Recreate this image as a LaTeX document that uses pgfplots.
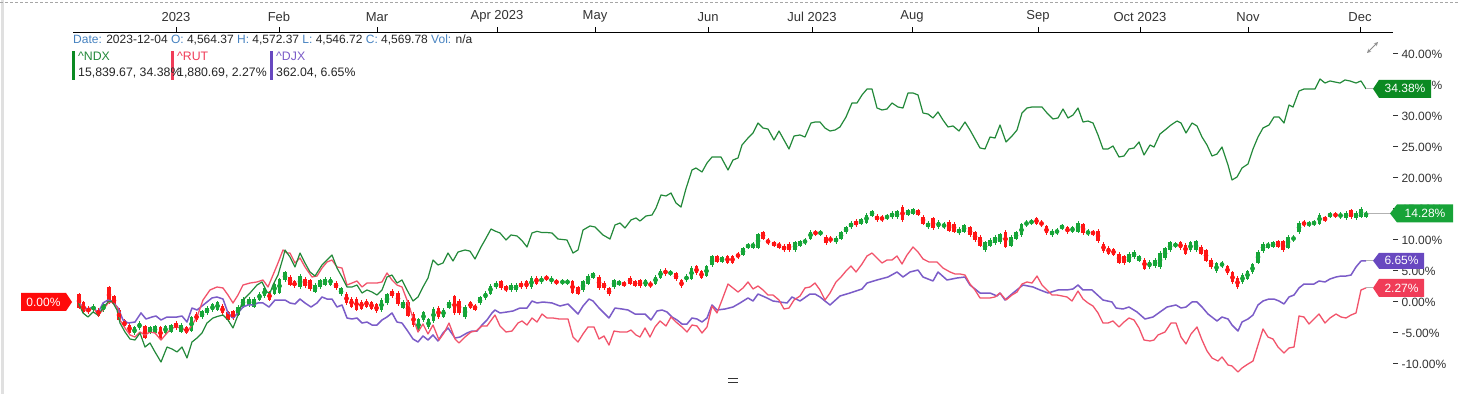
\documentclass[border=0pt]{standalone}
\usepackage{fontspec}
\setmainfont{Liberation Sans}
\usepackage{pgfplots}
\pgfplotsset{compat=1.18}
\usepackage{pgfplotstable}

\definecolor{ndx}{HTML}{23893A}
\definecolor{rut}{HTML}{F2536B}
\definecolor{djx}{HTML}{7B5CC8}
\definecolor{cgreen}{HTML}{16A538}
\definecolor{cred}{HTML}{FF1515}
\definecolor{hdrblue}{HTML}{4682C0}
\definecolor{lab1}{HTML}{0B8A22}
\definecolor{lab2}{HTML}{17A338}
\definecolor{lab3}{HTML}{6848C0}
\definecolor{lab4}{HTML}{F03C58}
\definecolor{lab0}{HTML}{FF0A0A}
\definecolor{txt}{HTML}{333333}

\pgfplotstableread{
x y
78 0
83 -1.77
88 -2.42
93 -1.61
98 -2.10
103 -0.97
108 0
112 0.16
117 -1.29
120 -3.39
125 -4.84
130 -5.97
135 -6.13
140 -5.00
145 -7.26
150 -6.61
155 -8.06
161 -9.68
167 -7.26
172 -7.58
177 -8.06
182 -7.26
187 -9.03
192 -6.45
197 -5.81
202 -5.00
207 -3.39
213 -2.58
218 -2.30
223 -2.10
228 -2.90
233 -4.19
238 -2.10
243 0.32
250 1.45
257 2.74
262 3.23
267 1.61
270 1.45
273 2.74
278 4.35
283 7.10
285 8.39
290 7.26
295 5.65
300 7.90
305 6.29
310 4.84
315 4.19
322 5.97
327 6.77
332 7.58
337 5.48
342 4.03
347 2.42
352 2.42
357 2.74
362 1.45
367 1.94
372 1.61
377 1.13
382 1.94
387 4.03
392 4.35
397 3.06
402 3.55
407 1.94
413 0.16
418 0.81
423 2.42
428 3.87
433 6.77
438 5.97
443 6.29
448 7.90
453 6.61
458 8.06
465 8.39
470 8.20
475 6.94
481 8.87
485 10.00
491 11.77
495 11.45
500 11.13
506 10.00
511 10.81
517 10.65
522 9.90
527 8.87
532 11.13
537 11.40
542 11.20
547 11.20
552 11.13
558 10.16
567 10.00
573 7.90
578 8.39
583 11.61
590 12.26
595 12.10
603 10.81
610 10.16
615 12.42
620 12.74
625 11.94
631 13.23
636 13.55
640 13.06
646 13.87
652 14.03
656 15.16
661 17.26
666 17.10
671 17.58
676 15.97
681 15.32
686 18.30
692 21.29
696 21.61
702 20.97
707 22.42
712 23.39
721 23.39
728 21.29
733 22.90
738 23.23
742 25.32
748 26.45
753 27.26
758 28.87
763 28.06
768 27.90
774 26.13
779 27.58
784 26.13
789 24.68
794 26.77
800 26.94
805 26.61
811 28.87
815 29.03
820 29.03
825 28.06
830 27.58
835 27.74
840 28.23
846 29.84
852 32.10
857 32.10
862 33.39
867 34.35
872 34.35
877 31.29
882 30.97
887 31.13
892 32.10
898 31.45
903 31.29
908 33.71
913 33.71
918 33.39
923 30.48
928 30.32
933 29.68
938 30.65
943 29.35
948 28.23
953 28.39
959 27.58
965 29.03
970 27.74
975 26.29
980 24.84
985 24.68
990 26.61
995 26.45
1000 28.55
1006 25.81
1012 26.77
1017 27.74
1022 30.48
1027 31.29
1032 31.45
1042 31.45
1047 30.48
1053 29.52
1058 29.68
1063 31.13
1068 29.68
1073 30.16
1078 31.29
1083 29.03
1088 29.19
1093 28.87
1098 26.94
1103 24.68
1108 24.68
1113 25.16
1119 23.39
1124 23.55
1129 24.68
1134 24.84
1139 25.81
1144 23.71
1150 25.32
1154 25.00
1160 27.10
1165 27.74
1171 28.55
1177 29.19
1181 28.87
1186 27.26
1192 28.87
1197 28.39
1202 26.61
1207 25.32
1212 23.55
1217 23.87
1222 25.00
1228 22.10
1232 19.68
1237 20.16
1242 21.61
1248 22.26
1253 24.68
1258 26.61
1263 28.06
1269 28.55
1274 29.84
1279 29.84
1284 28.87
1289 31.77
1293 31.45
1299 34.03
1304 34.35
1310 34.35
1315 34.35
1320 35.97
1325 35.32
1330 35.65
1335 35.48
1340 35.32
1345 35.81
1350 35.65
1356 35.32
1361 35.65
1366 34.38
}\ndxdata

\pgfplotstableread{
x y
78 0
83 -0.97
88 -1.61
93 -0.81
98 -2.10
103 -1.29
108 -0.16
112 0
117 -0.81
120 -2.90
125 -4.19
130 -5.32
135 -5.65
140 -4.84
145 -5.32
150 -4.84
155 -5.00
161 -6.13
167 -5.00
172 -4.19
177 -4.03
182 -4.19
187 -4.84
192 -3.71
197 -2.42
203 0.32
210 1.94
217 2.42
223 2.26
228 1.13
233 -0.16
238 1.13
243 2.74
250 3.06
257 3.23
263 3.55
268 2.42
273 4.35
278 6.29
283 8.39
287 7.90
290 7.90
295 6.29
300 7.10
305 5.65
312 4.03
317 4.19
322 5.48
327 6.45
332 6.77
337 5.65
342 5.48
347 2.74
352 3.06
357 3.39
362 2.42
367 3.06
377 3.06
382 3.23
387 4.68
392 3.55
397 2.74
402 2.42
407 0.32
413 -2.58
418 -4.84
423 -3.55
428 -5.16
433 -3.71
439 -6.13
444 -5.00
449 -3.39
455 -5.97
459 -6.61
465 -5.65
471 -4.84
476 -4.68
482 -3.87
487 -3.87
495 -2.10
500 -3.87
506 -4.84
512 -4.68
518 -3.39
522 -3.06
527 -3.71
532 -2.58
537 -3.23
542 -1.94
547 -2.58
553 -2.58
559 -2.74
568 -2.74
573 -5.65
578 -6.45
583 -5.16
588 -4.03
594 -4.03
599 -5.97
604 -5.48
609 -6.94
614 -4.68
620 -4.84
627 -4.84
631 -4.52
636 -5.32
640 -5.65
645 -4.19
650 -5.65
655 -4.03
660 -3.06
666 -3.87
671 -2.42
676 -3.23
682 -4.03
687 -4.84
692 -3.71
697 -3.87
702 -5.00
707 -4.03
712 -0.65
717 -1.77
722 0.32
728 2.90
733 2.26
738 1.61
743 2.26
748 3.23
753 2.10
758 2.58
763 1.94
768 1.13
773 1.13
779 0.32
784 -1.13
789 -0.97
794 0.32
800 0.97
805 2.26
810 2.42
815 3.06
820 1.94
825 0.32
830 1.45
836 3.23
841 4.03
846 5.00
851 5.81
856 4.84
862 6.13
867 7.42
872 7.90
877 7.10
882 6.29
887 6.77
892 6.77
897 7.42
902 6.13
907 7.58
913 8.87
918 8.06
923 6.94
929 6.45
937 6.45
943 5.48
950 4.84
955 4.52
960 4.52
965 4.35
970 2.90
975 1.94
980 0.65
985 0.65
990 0.65
995 0.81
1000 1.45
1006 0.32
1012 1.13
1017 1.61
1022 2.90
1027 3.23
1032 3.06
1037 4.19
1042 2.74
1047 1.94
1052 1.13
1057 1.13
1062 0.97
1067 0.81
1072 0.16
1078 1.77
1083 0.48
1088 -0.16
1093 -0.65
1098 -1.77
1103 -3.39
1108 -3.39
1113 -3.06
1119 -4.03
1124 -3.23
1129 -2.58
1134 -2.90
1139 -4.19
1144 -6.13
1150 -6.29
1154 -6.13
1158 -5.32
1165 -4.84
1171 -3.39
1176 -3.39
1181 -5.65
1186 -6.77
1191 -5.16
1197 -4.03
1202 -6.13
1207 -7.90
1212 -9.03
1218 -9.52
1222 -8.87
1228 -10.16
1232 -10.32
1238 -11.29
1242 -10.65
1248 -10.00
1253 -9.52
1258 -6.94
1263 -4.35
1268 -5.65
1273 -5.97
1278 -7.26
1284 -8.23
1289 -7.42
1294 -7.26
1299 -2.26
1304 -2.42
1309 -3.55
1314 -2.74
1319 -1.94
1325 -3.39
1330 -2.58
1336 -1.94
1341 -2.42
1346 -2.58
1351 -2.10
1356 -1.77
1361 1.94
1366 2.27
}\rutdata

\pgfplotstableread{
x y
78 0
83 -0.81
88 -1.13
93 -0.81
98 -1.77
103 -0.16
108 0.32
113 0
118 -0.97
123 -2.90
128 -3.39
135 -3.23
141 -1.77
146 -2.74
152 -2.42
156 -2.26
161 -2.90
167 -2.42
172 -2.42
177 -2.42
182 -2.26
187 -3.23
192 -0.97
197 -1.29
202 -0.65
207 0
212 0.65
217 0.81
223 0.48
228 -1.77
233 -2.58
238 -1.77
243 -0.81
248 -0.48
253 -0.48
258 -0.16
263 -0.16
269 -0.81
275 0.32
285 0.32
290 -0.16
295 -0.32
300 0.48
305 -0.16
311 -0.81
317 -0.16
322 0.81
327 0.48
332 0.48
337 -0.81
342 -0.48
347 -2.58
352 -2.74
357 -2.58
362 -3.39
367 -3.23
372 -3.71
377 -3.71
382 -2.90
387 -2.42
392 -1.77
397 -3.23
402 -3.39
407 -4.52
413 -5.97
418 -6.45
423 -5.48
428 -6.13
433 -5.32
438 -6.29
443 -5.00
448 -4.19
455 -5.81
460 -5.65
467 -5.00
472 -4.68
477 -4.68
482 -3.71
487 -2.90
492 -1.77
495 -1.29
500 -1.77
507 -1.61
513 -1.45
520 -0.97
527 -0.97
532 0.16
537 -0.16
543 0
552 -0.16
560 -0.65
568 -0.32
573 -1.13
578 -1.94
583 -0.65
589 0.48
593 0.16
599 -0.97
604 -1.77
609 -2.58
615 -0.97
622 -1.13
628 -1.29
635 -1.94
640 -1.94
645 -1.94
651 -2.90
657 -1.45
662 -1.29
667 -1.61
672 -2.42
677 -2.90
682 -3.55
687 -3.55
692 -2.58
697 -2.74
702 -3.23
707 -2.58
712 -0.48
717 -1.29
725 -1.13
733 -0.81
740 -0.16
748 0.65
753 0.16
758 1.29
767 0.65
773 0.16
780 0
787 -0.16
792 0.81
800 0.16
810 1.29
815 1.29
820 0.81
825 0.16
830 -0.48
840 0.97
850 1.45
862 2.10
867 3.06
877 3.55
888 4.03
897 4.84
903 4.03
910 4.84
918 5.16
923 4.03
933 3.39
938 4.84
947 3.55
957 3.87
965 4.03
970 2.74
980 1.45
990 1.45
997 0.97
1000 1.45
1005 0.32
1013 1.45
1023 2.74
1033 2.42
1040 1.94
1048 1.45
1058 1.94
1067 1.94
1073 2.10
1078 2.74
1083 1.94
1092 1.94
1103 0.32
1112 0
1116 -0.97
1123 -1.13
1129 -0.81
1137 -1.61
1145 -2.74
1153 -2.42
1160 -1.61
1167 -0.81
1176 -0.48
1181 -0.97
1186 -0.81
1192 0
1197 0
1202 -0.81
1208 -1.94
1217 -3.06
1222 -2.42
1228 -2.74
1232 -3.71
1238 -4.68
1242 -3.23
1248 -2.74
1253 -2.10
1258 -0.48
1263 0.16
1269 0.48
1274 0.48
1279 0.16
1284 -0.32
1289 0.81
1294 1.13
1299 2.26
1304 2.90
1309 2.90
1314 2.90
1319 3.39
1325 3.23
1330 3.71
1336 4.03
1341 4.19
1346 4.19
1351 4.35
1356 5.65
1361 6.61
1366 6.65
}\djxdata

\pgfplotstableread{
x lo hi
93.5 -1.29 -0.65
103.5 -1.29 -0.48
134.5 -5.00 -4.19
139.5 -4.19 -3.39
150 -4.84 -4.19
155 -4.84 -4.03
165.5 -4.84 -4.03
171 -4.68 -3.87
181 -4.68 -3.71
191.5 -4.52 -2.58
202 -2.42 -1.61
207 -1.77 -0.97
212.5 -1.29 -0.48
217.5 -1.13 -0.16
238 -1.94 -0.81
243 -0.65 0.48
249 -0.48 0.48
254 -0.65 0.48
259.5 0.48 1.29
264.5 0.97 2.10
274.5 1.45 2.90
279.5 1.61 3.55
285 3.55 4.68
300 2.42 4.19
315 1.77 2.74
320 2.42 3.39
325 2.90 3.71
330.5 2.90 3.71
341 1.29 2.10
381.5 -1.29 0.32
387 -0.16 1.13
403 -0.81 0
418.5 -4.52 -2.90
423.5 -2.90 -1.77
428.5 -4.03 -2.90
433.5 -3.06 -1.13
443.5 -2.26 -1.29
449 -0.81 0
465 -2.42 -0.81
480 -0.16 0.65
485.5 0.65 1.45
490.5 1.45 2.58
496 2.42 3.06
511 1.94 2.74
516 1.94 2.74
531.5 2.42 3.87
541.5 3.23 3.87
551.5 3.23 3.87
562.5 3.06 3.39
567.5 3.06 3.39
583 1.94 3.23
588 3.06 4.19
593 4.03 4.52
614 2.42 3.39
619 2.90 3.23
645.5 2.74 3.39
655.5 3.06 4.03
660.5 4.03 5.00
670.5 4.52 4.84
686.5 3.55 4.19
691.5 3.87 5.48
706.5 4.35 5.65
712 5.97 7.26
722 6.61 7.10
743 7.74 8.55
748 8.87 9.19
753 8.87 9.35
758 8.87 10.81
795 8.39 9.52
800 9.19 9.68
805 9.52 10.00
810.5 10.32 11.29
820.5 10.97 11.29
836 9.68 10.32
841 10.32 11.13
846 11.29 11.94
851 12.10 12.74
861 12.74 13.23
866.5 12.90 14.03
872 14.03 14.52
887 13.55 13.87
892 13.71 14.35
897 13.71 14.52
908 14.19 14.68
913 14.35 14.84
928 12.10 12.74
938.5 12.10 12.90
944 12.10 12.58
959 11.13 11.77
964 11.45 12.26
985 8.39 9.52
990 9.19 10.00
995 9.52 10.48
1000 9.68 10.81
1011 9.19 10.48
1016 10.32 11.13
1021.5 10.81 12.42
1026.5 12.42 12.90
1031.5 12.74 13.06
1052 10.81 11.45
1057 11.13 11.61
1062 11.94 12.26
1072.5 11.45 11.94
1078 11.45 12.74
1088 10.97 11.45
1129 6.61 7.74
1134 7.26 8.06
1139 6.77 7.26
1149.5 5.65 6.45
1155 5.81 6.77
1160 5.65 7.90
1165 7.10 8.55
1170 8.39 9.52
1175.5 9.03 9.35
1190.5 8.39 9.52
1196 8.39 9.68
1216.5 5.00 6.13
1222 5.81 6.29
1242.5 3.23 4.35
1247.5 3.87 4.84
1252.5 4.84 5.97
1258 6.45 8.06
1263 8.23 9.35
1268 8.87 9.35
1273 9.03 9.52
1288 8.87 10.48
1293.5 10.00 10.48
1299 11.29 12.74
1309 12.42 12.74
1314 12.58 12.90
1319.5 12.74 14.03
1330 13.87 14.19
1340.5 13.71 14.19
1346 13.55 14.35
1356 13.55 14.35
1361 13.87 15.00
1366 13.87 14.35
}\greencandles

\pgfplotstableread{
x lo hi
79 -0.81 1.13
83.5 -1.61 -0.16
88.5 -1.61 -0.97
98.5 -2.10 -1.29
109 0 2.26
114 -0.32 0.81
119 -2.90 -1.29
124.5 -3.87 -3.06
129.5 -4.84 -3.71
145 -5.65 -4.03
160.5 -5.81 -4.19
176 -4.19 -3.39
186.5 -4.84 -4.19
196.5 -2.90 -1.94
222.5 -1.77 -0.65
228 -2.90 -1.77
233 -2.58 -1.61
269.5 0.48 1.45
290 2.90 4.03
294.5 2.58 3.23
305 2.58 3.71
310 2.10 3.39
336 2.26 3.06
346.5 -0.16 1.29
351.5 -0.65 0.48
356.5 -1.13 0.48
361.5 -0.97 0
366.5 -0.65 0.16
371.5 -0.97 -0.16
376.5 -1.45 -0.48
392 0.97 1.77
398 -0.32 1.45
408 -2.10 0
413.5 -3.71 -1.94
438.5 -2.42 -0.97
454.5 -1.77 0.81
459 -1.77 0.16
470.5 -0.81 -0.16
475 -1.13 -0.65
501 2.26 3.23
506 1.94 2.42
521 2.42 3.06
526.5 2.42 3.23
536.5 3.06 3.87
546.5 3.71 4.03
556.5 3.06 3.39
572.5 1.61 3.23
578 1.45 2.26
599 2.26 4.03
604 2.26 3.06
609 1.29 2.10
624 2.74 3.06
630 3.06 3.87
635 2.74 3.23
640 2.58 3.39
650.5 2.58 3.06
665.5 4.52 5.16
676 3.71 4.52
681.5 2.58 3.39
696.5 4.68 5.65
701.5 4.03 4.84
717 6.61 7.26
727.5 6.45 7.26
732.5 6.45 7.26
738 7.26 7.74
763 10.32 11.13
768 9.52 10.00
774 9.19 9.52
779 8.87 9.35
784 8.39 9.03
789 8.39 9.35
815.5 10.97 11.29
826 9.52 10.48
830.5 9.84 10.32
856 12.42 13.06
877 13.23 13.87
882 13.23 13.71
902.5 13.23 15.32
918 14.19 14.68
923 12.74 13.71
933 11.94 13.39
949 11.61 12.90
954 11.45 12.58
970 10.81 11.94
975 10.00 11.13
980 9.19 10.48
1005.5 9.03 11.29
1036.5 12.74 13.39
1041.5 12.42 12.90
1046.5 11.13 12.10
1067.5 11.29 11.94
1083 11.13 12.42
1093 10.97 11.29
1098 9.84 11.45
1103.5 8.23 9.35
1108.5 7.90 8.71
1113.5 7.74 8.39
1119 6.45 7.74
1124 6.29 7.26
1144.5 5.48 6.77
1180.5 8.71 9.52
1185.5 7.90 9.19
1201 7.90 8.87
1206 6.77 8.23
1211 5.65 6.77
1227.5 4.68 5.65
1232.5 3.23 4.68
1237.5 2.42 3.87
1278 9.03 9.68
1283 8.39 9.68
1304 12.42 12.90
1325 13.23 13.55
1335.5 13.87 14.19
1351 13.71 14.68
}\redcandles

\begin{document}
\begin{tikzpicture}[x=1pt,y=1pt]
\path[use as bounding box] (0,0) rectangle (1459,394);
\fill[white] (0,0) rectangle (1459,394);
\draw[black!12, line width=3pt] (2,0) -- (2,394);
\draw[black!35, dash pattern=on 3pt off 2pt] (0,391.5) -- (1459,391.5);
\begin{axis}[
  at={(73pt,0pt)}, anchor=south west,
  scale only axis, width=1320pt, height=362pt,
  xmin=73, xmax=1393, ymin=-14.839, ymax=43.548,
  clip=false,
  axis line style={draw=none},
  xtick pos=right, xticklabel pos=right,
  ytick pos=right, yticklabel pos=right,
  tick align=outside, major tick length=5pt,
  xtick={176,279,377,497,595,708,812,912,1038,1140,1248,1360},
  xticklabels={2023,Feb,Mar,Apr 2023,May,Jun,Jul 2023,Aug,Sep,Oct 2023,Nov,Dec},
  ytick={-10,-5,0,5,10,15,20,25,30,35,40},
  yticklabels={-10.00\%,-5.00\%,0.00\%,5.00\%,10.00\%,15.00\%,20.00\%,25.00\%,30.00\%,35.00\%,40.00\%},
  x tick style={black, line width=0.8pt},
  y tick style={txt, line width=1pt},
  xticklabel style={font=\fontsize{13}{15}\selectfont, text=txt, yshift=1.5pt},
  yticklabel style={font=\fontsize{12}{14}\selectfont, text=txt, anchor=west},
]
% candles: wicks then bodies
\addplot[only marks, mark=none, color=cgreen, forget plot,
  error bars/.cd, y dir=both, y explicit, error mark=none,
  error bar style={line width=1pt, cgreen}]
  table[x=x, y expr=(\thisrow{lo}+\thisrow{hi})/2, y error expr=(\thisrow{hi}-\thisrow{lo})/2+0.35] {\greencandles};
\addplot[only marks, mark=none, color=cgreen, forget plot,
  error bars/.cd, y dir=both, y explicit, error mark=none,
  error bar style={line width=3.4pt, cgreen}]
  table[x=x, y expr=(\thisrow{lo}+\thisrow{hi})/2, y error expr=(\thisrow{hi}-\thisrow{lo})/2+0.08] {\greencandles};
\addplot[only marks, mark=none, color=cred, forget plot,
  error bars/.cd, y dir=both, y explicit, error mark=none,
  error bar style={line width=1pt, cred}]
  table[x=x, y expr=(\thisrow{lo}+\thisrow{hi})/2, y error expr=(\thisrow{hi}-\thisrow{lo})/2+0.35] {\redcandles};
\addplot[only marks, mark=none, color=cred, forget plot,
  error bars/.cd, y dir=both, y explicit, error mark=none,
  error bar style={line width=3.4pt, cred}]
  table[x=x, y expr=(\thisrow{lo}+\thisrow{hi})/2, y error expr=(\thisrow{hi}-\thisrow{lo})/2+0.08] {\redcandles};
% lines
\addplot[djx, line width=1.5pt, line join=round] table[x=x,y=y] {\djxdata};
\addplot[rut, line width=1.3pt, line join=round] table[x=x,y=y] {\rutdata};
\addplot[ndx, line width=1.2pt, line join=round] table[x=x,y=y] {\ndxdata};
% stubs
\addplot[black!30, line width=1pt] coordinates {(1366,34.38) (1373,34.38)};
\addplot[black!30, line width=1pt] coordinates {(1366,14.28) (1390,14.28)};
\addplot[black!30, line width=1pt] coordinates {(1366,6.65) (1373,6.65)};
\addplot[black!30, line width=1pt] coordinates {(1366,2.27) (1373,2.27)};
% anchor points for value labels
\coordinate (LA) at (axis cs:1373,34.38);
\coordinate (LB) at (axis cs:1390,14.28);
\coordinate (LC) at (axis cs:1373,6.65);
\coordinate (LD) at (axis cs:1373,2.27);
\coordinate (LE) at (axis cs:72,0);
\coordinate (TL) at (axis cs:73,43.548);
\coordinate (TR) at (axis cs:1393,43.548);
\end{axis}
% top axis line
\draw[black, line width=0.8pt] (TL) -- (TR);
% value labels
\fill[lab1] (LA) -- ++(6,9) -- ++(52,0) -- ++(0,-18) -- ++(-52,0) -- cycle;
\node[text=white, font=\fontsize{12}{14}\selectfont, inner sep=0pt] at ([xshift=32pt]LA) {34.38\%};
\fill[lab2] (LB) -- ++(7,9) -- ++(56,0) -- ++(0,-18) -- ++(-56,0) -- cycle;
\node[text=white, font=\fontsize{12}{14}\selectfont, inner sep=0pt] at ([xshift=35pt]LB) {14.28\%};
\fill[lab3] (LC) -- ++(6,8) -- ++(45,0) -- ++(0,-16) -- ++(-45,0) -- cycle;
\node[text=white, font=\fontsize{12}{14}\selectfont, inner sep=0pt] at ([xshift=28.5pt]LC) {6.65\%};
\fill[lab4] (LD) -- ++(6,9) -- ++(45,0) -- ++(0,-18) -- ++(-45,0) -- cycle;
\node[text=white, font=\fontsize{12}{14}\selectfont, inner sep=0pt] at ([xshift=28.5pt]LD) {2.27\%};
\fill[lab0] (LE) -- ++(-6,9) -- ++(-45,0) -- ++(0,-18) -- ++(45,0) -- cycle;
\node[text=white, font=\fontsize{12}{14}\selectfont, inner sep=0pt] at ([xshift=-28.5pt]LE) {0.00\%};
% header line
\node[anchor=base west, inner sep=0pt, font=\fontsize{12}{14}\selectfont, text=black!85] at (73,350)
  {{\color{hdrblue}Date:} 2023-12-04 {\color{hdrblue}O:} 4,564.37 {\color{hdrblue}H:} 4,572.37 {\color{hdrblue}L:} 4,546.72 {\color{hdrblue}C:} 4,569.78 {\color{hdrblue}Vol:} n/a};
% legend
\fill[lab1] (72,314) rectangle (75,343);
\fill[lab4] (171,314) rectangle (174,343);
\fill[lab3] (270,314) rectangle (273,343);
\node[anchor=base west, inner sep=0pt, font=\fontsize{12.3}{14}\selectfont, text=ndx] at (78,333) {\textasciicircum NDX};
\node[anchor=base west, inner sep=0pt, font=\fontsize{12.3}{14}\selectfont, text=black!85] at (78,317) {15,839.67, 34.38\%};
\node[anchor=base west, inner sep=0pt, font=\fontsize{12.3}{14}\selectfont, text=lab4] at (177,333) {\textasciicircum RUT};
\node[anchor=base west, inner sep=0pt, font=\fontsize{12.3}{14}\selectfont, text=black!85] at (177,317) {1,880.69, 2.27\%};
\node[anchor=base west, inner sep=0pt, font=\fontsize{12.3}{14}\selectfont, text=djx] at (276,333) {\textasciicircum DJX};
\node[anchor=base west, inner sep=0pt, font=\fontsize{12.3}{14}\selectfont, text=black!85] at (276,317) {362.04, 6.65\%};
% expand icon and drag handle
\draw[black!45, <->, >=stealth, line width=0.8pt] (1367,341) -- (1378,352);
\draw[black!80, line width=1pt] (728,15.5) -- (738,15.5) (728,12) -- (738,12);
\end{tikzpicture}
\end{document}
